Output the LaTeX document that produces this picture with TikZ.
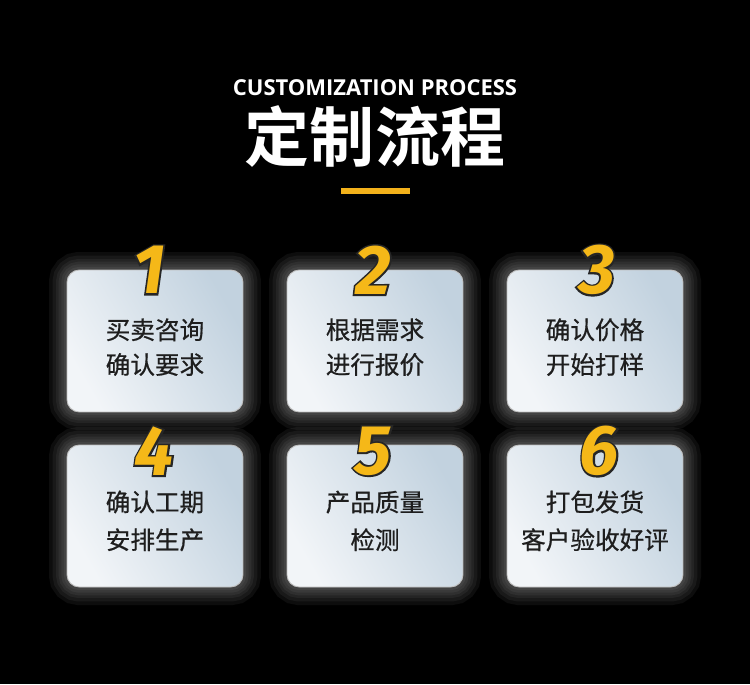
\documentclass[tikz,border=0pt]{standalone}
\usepackage{fontspec}
\usepackage{tikz}
\usetikzlibrary{positioning}
\setmainfont{Noto Sans CJK SC}
\newfontfamily\cjkbold{Noto Sans CJK SC Bold}
\newfontfamily\cjkmid[FakeBold=0.6]{Noto Sans CJK SC}
\newfontfamily\titlefont{Open Sans}
\newfontfamily\numfont{Fira Sans}
\newfontfamily\numback[FakeBold=5]{Fira Sans}
\definecolor{numyellow}{HTML}{F5B818}
\definecolor{barorange}{HTML}{F3B21B}
\definecolor{boxlight}{HTML}{F2F5F8}
\definecolor{boxdark}{HTML}{C2D2DF}
\definecolor{textdark}{HTML}{1E1E1E}
\pgfdeclarelayer{backlayer}
\pgfdeclarelayer{glowlayer}
\pgfsetlayers{backlayer,glowlayer,main}

\tikzset{
  card/.style={rounded corners=7pt, minimum width=3.52cm, minimum height=2.84cm,
    left color=boxlight, right color=boxdark, shading angle=120,
    draw=gray!50, line width=0.5pt, inner sep=0pt},
  cardtext/.style={align=center, text=textdark, inner sep=0pt},
  numfg/.style={font=\numfont\bfseries\itshape\fontsize{40}{40}\selectfont, text=numyellow},
  numbg/.style={font=\numback\bfseries\itshape\fontsize{40}{40}\selectfont, text=black!85}
}

\begin{document}
\begin{tikzpicture}[x=0.02cm, y=-0.02cm]
  \begin{pgfonlayer}{backlayer}
    \fill[black] (0,0) rectangle (750,684);
  \end{pgfonlayer}
  \useasboundingbox (0,0) rectangle (750,684);

  % heading
  \node[text=white, font=\titlefont\bfseries\fontsize{12.5}{14}\selectfont] (entitle) at (375,88) {CUSTOMIZATION PROCESS};
  \node[text=white, font=\cjkbold\fontsize{37}{40}\selectfont] (cntitle) at (375,136) {定制流程};
  \fill[barorange] (341,188) rectangle (410,194);

  % cards
  \node[card] (box1) at (155,341) {};
  \node[card] (box2) at (375,341) {};
  \node[card] (box3) at (595,341) {};
  \node[card] (box4) at (155,516) {};
  \node[card] (box5) at (375,516) {};
  \node[card] (box6) at (595,516) {};

  % card texts
  \begin{scope}[cardtext, font=\cjkmid\fontsize{14}{19.8}\selectfont]
    \node (txt1) at ([yshift=-3.5pt]box1.center) {买卖咨询\\确认要求};
    \node (txt2) at ([yshift=-3.5pt]box2.center) {根据需求\\进行报价};
    \node (txt3) at ([yshift=-3.5pt]box3.center) {确认价格\\开始打样};
  \end{scope}
  \begin{scope}[cardtext, font=\cjkmid\fontsize{14}{21.5}\selectfont]
    \node (txt4) at ([yshift=-2.8pt]box4.center) {确认工期\\安排生产};
    \node (txt5) at ([yshift=-2.8pt]box5.center) {产品质量\\检测};
    \node (txt6) at ([yshift=-2.8pt]box6.center) {打包发货\\客户验收好评};
  \end{scope}

  % glow round the cards
  \begin{pgfonlayer}{glowlayer}
    \foreach \b in {box1,box2,box3,box4,box5,box6}
      \foreach \w in {20,16,12,9,6,3}
        \draw[white, opacity=0.05, line width=\w pt, rounded corners=7pt]
          (\b.south west) rectangle (\b.north east);
  \end{pgfonlayer}

  % step numbers
  \foreach \i/\x/\y in {1/149/270, 2/373/270, 3/597/270, 4/154/451, 5/373/451, 6/599/451} {
    \node[numbg] (nb\i) at (\x,\y) {\i};
    \node[numfg] (nf\i) at (\x,\y) {\i};
  }
\end{tikzpicture}
\end{document}
